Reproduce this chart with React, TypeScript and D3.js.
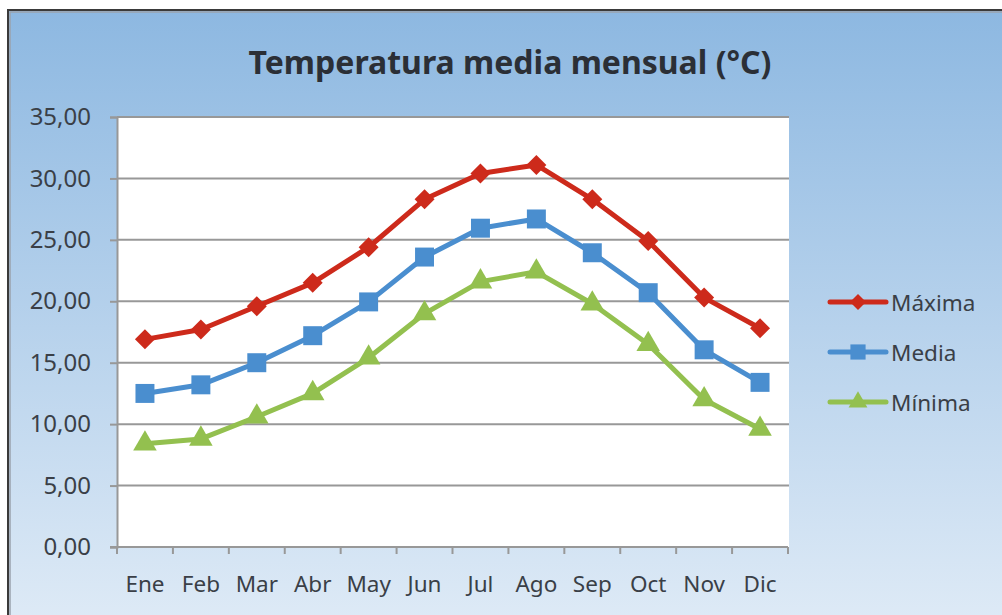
import * as d3 from 'd3';
import { useEffect, useRef } from 'react';

const months = ['Ene', 'Feb', 'Mar', 'Abr', 'May', 'Jun', 'Jul', 'Ago', 'Sep', 'Oct', 'Nov', 'Dic'];
const maxima = [16.9, 17.7, 19.6, 21.5, 24.4, 28.3, 30.4, 31.1, 28.3, 24.9, 20.3, 17.8];
const media = [12.5, 13.2, 15.0, 17.2, 19.95, 23.6, 25.95, 26.7, 23.95, 20.7, 16.05, 13.4];
const minima = [8.4, 8.8, 10.6, 12.5, 15.4, 19.0, 21.6, 22.4, 19.8, 16.5, 12.0, 9.6];
const yTicks = [0, 5, 10, 15, 20, 25, 30, 35];
const seriesNames = ['Máxima', 'Media', 'Mínima'];

const W = 1002;
const H = 615;
const m = { left: 117, right: 788, top: 117, bottom: 547 };

const App = () => {
  const ref = useRef<SVGSVGElement>(null);

  useEffect(() => {
    const svg = d3.select(ref.current).attr('width', W).attr('height', H).attr('viewBox', [0, 0, W, H]);
    svg.selectAll('*').remove();

    const font = '"Noto Sans", sans-serif';
    const textColor = '#3a3f47';

    const defs = svg.append('defs');
    const grad = defs.append('linearGradient').attr('id', 'bg').attr('x1', 0).attr('y1', 0).attr('x2', 0).attr('y2', 1);
    grad.append('stop').attr('offset', '0%').attr('stop-color', '#8db8e1');
    grad.append('stop').attr('offset', '100%').attr('stop-color', '#e1ecf7');

    svg.append('rect').attr('width', W).attr('height', H).attr('fill', '#ffffff');
    // chart frame, cut off at the right and bottom
    svg.append('rect').attr('x', 8).attr('y', 10).attr('width', W + 20).attr('height', H + 20)
      .attr('fill', 'url(#bg)').attr('stroke', '#3a3a3a').attr('stroke-width', 2);
    svg.append('rect').attr('x', 10).attr('y', 12).attr('width', W + 20).attr('height', H + 20)
      .attr('fill', 'none').attr('stroke', '#9aa3ad').attr('stroke-width', 1.5);

    const x = d3.scaleBand(months, [m.left, m.right]).padding(0);
    const y = d3.scaleLinear([0, 35], [m.bottom, m.top]);
    const cx = (d: string) => (x(d) ?? 0) + x.bandwidth() / 2;

    // plot area
    svg.append('rect').attr('x', m.left).attr('y', m.top).attr('width', m.right - m.left + 1).attr('height', m.bottom - m.top).attr('fill', '#ffffff');

    // gridlines
    svg.append('g').selectAll('line').data(yTicks.slice(1)).enter().append('line')
      .attr('x1', m.left).attr('x2', m.right + 1).attr('y1', (d) => y(d)).attr('y2', (d) => y(d))
      .attr('stroke', '#989898').attr('stroke-width', 2);

    // y axis
    const yAxis = svg.append('g').attr('transform', `translate(${m.left},0)`)
      .call(d3.axisLeft(y).tickValues(yTicks).tickSize(7).tickPadding(19).tickFormat((d: any) => d3.format('.2f')(d).replace('.', ',')));
    yAxis.selectAll('path, line').attr('stroke', '#989898').attr('stroke-width', 2);
    yAxis.selectAll('text').attr('font-family', font).attr('font-size', 24).attr('fill', textColor);

    // x axis
    const xAxis = svg.append('g').attr('transform', `translate(0,${m.bottom})`)
      .call(d3.axisBottom(x).tickSize(0).tickPadding(29));
    xAxis.select('path').remove();
    xAxis.selectAll('text').attr('font-family', font).attr('font-size', 22.5).attr('fill', textColor);
    svg.append('line').attr('x1', m.left - 7).attr('x2', m.right).attr('y1', m.bottom).attr('y2', m.bottom)
      .attr('stroke', '#989898').attr('stroke-width', 2);
    svg.append('g').selectAll('line').data([...months.map((d) => x(d) ?? 0), m.right]).enter().append('line')
      .attr('x1', (d) => d).attr('x2', (d) => d).attr('y1', m.bottom).attr('y2', m.bottom + 7)
      .attr('stroke', '#989898').attr('stroke-width', 2);

    const series = [
      { name: seriesNames[0], values: maxima, color: '#cd2a1b', marker: 'diamond' },
      { name: seriesNames[1], values: media, color: '#4a8ecf', marker: 'square' },
      { name: seriesNames[2], values: minima, color: '#93c04f', marker: 'triangle' },
    ];

    const markerPath = (kind: string, scale = 1) => {
      if (kind === 'square') return d3.symbol(d3.symbolSquare, 360 * scale * scale)() as string;
      if (kind === 'triangle') return d3.symbol(d3.symbolTriangle, 240 * scale * scale)() as string;
      return d3.symbol(d3.symbolSquare, 200 * scale * scale)() as string;
    };
    const markerTransform = (kind: string, px: number, py: number) =>
      kind === 'diamond' ? `translate(${px},${py}) rotate(45)` : `translate(${px},${py})`;

    const line = d3.line<number>().x((_, i) => cx(months[i])).y((d) => y(d));

    series.forEach((s) => {
      const g = svg.append('g');
      g.append('path').datum(s.values).attr('d', line).attr('fill', 'none')
        .attr('stroke', s.color).attr('stroke-width', 5).attr('stroke-linejoin', 'round');
      g.selectAll('path.mk').data(s.values).enter().append('path').attr('class', 'mk')
        .attr('d', markerPath(s.marker))
        .attr('transform', (d, i) => markerTransform(s.marker, cx(months[i]), y(d)))
        .attr('fill', s.color);
    });

    // legend
    const legend = svg.append('g');
    series.forEach((s, i) => {
      const ly = 302 + i * 50;
      legend.append('line').attr('x1', 830).attr('x2', 886).attr('y1', ly).attr('y2', ly)
        .attr('stroke', s.color).attr('stroke-width', 5).attr('stroke-linecap', 'round');
      legend.append('path').attr('d', markerPath(s.marker, 0.8)).attr('transform', markerTransform(s.marker, 858, ly)).attr('fill', s.color);
      legend.append('text').attr('x', 891).attr('y', ly + 9).text(s.name)
        .attr('font-family', font).attr('font-size', 22.5).attr('fill', textColor);
    });

    // title
    svg.append('text').attr('x', 510).attr('y', 74).attr('text-anchor', 'middle')
      .attr('font-family', font).attr('font-size', 32).attr('font-weight', 700).attr('fill', '#2b2f36')
      .text('Temperatura media mensual (°C)');
  }, []);

  return (
    <div style={{ position: 'absolute', left: 0, top: 0 }}>
      <svg ref={ref} style={{ display: 'block' }} />
    </div>
  );
};

export default App;
